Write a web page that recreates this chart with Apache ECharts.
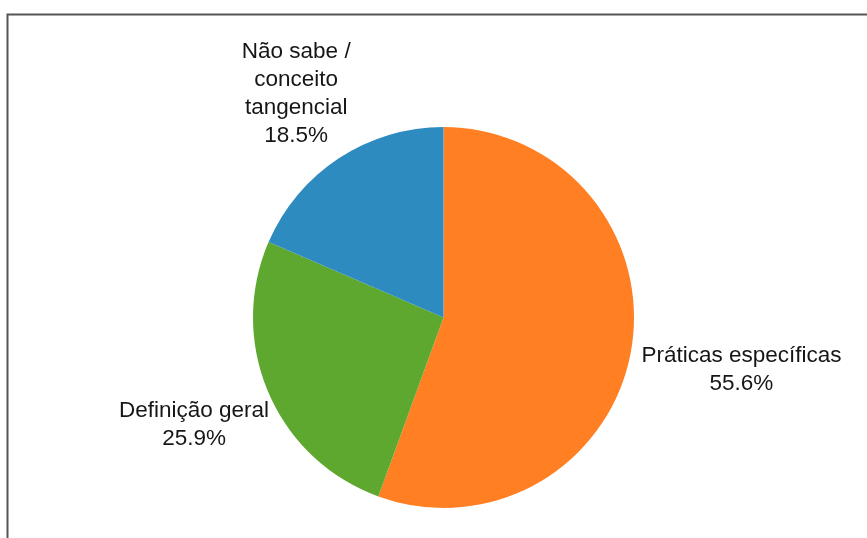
<!DOCTYPE html>
<html>
<head>
<meta charset="utf-8">
<script src="https://cdn.jsdelivr.net/npm/echarts@6/dist/echarts.min.js"></script>
<style>
  html, body { margin: 0; padding: 0; background: #ffffff; }
  #chart { width: 867px; height: 538px; }
</style>
</head>
<body>
<div id="chart"></div>
<script>
// Categories, response counts and slice colours
const categories = ['Práticas específicas', 'Definição geral', 'Não sabe /\nconceito\ntangencial'];
const counts = [15, 7, 5];
const colors = ['#ff7f22', '#5fa82f', '#2e8bc0'];

const CENTER = [443.5, 317.5];
const RADIUS = 190.5;
const LABEL_GAP = 1.055; // label box edge sits just outside the rim, along the slice bisector

const total = counts.reduce((a, b) => a + b, 0);
// Bisector angle of each slice, clockwise from 12 o'clock
const midAngles = [];
let acc = 0;
counts.forEach(v => {
  midAngles.push(2 * Math.PI * (acc + v / 2) / total);
  acc += v;
});

const chart = echarts.init(document.getElementById('chart'), null, { renderer: 'canvas' });

chart.setOption({
  backgroundColor: '#ffffff',
  animation: false,
  graphic: [{
    type: 'rect',
    shape: { x: 7.5, y: 14.5, width: 880, height: 560 },
    style: { fill: 'none', stroke: '#555555', lineWidth: 2 },
    silent: true
  }],
  series: [{
    type: 'pie',
    center: CENTER,
    radius: RADIUS,
    startAngle: 90,
    clockwise: true,
    data: categories.map((name, i) => ({
      name: name,
      value: counts[i],
      itemStyle: { color: colors[i] }
    })),
    label: {
      show: true,
      position: 'outside',
      formatter: p => p.name + '\n' + (p.value / total * 100).toFixed(1) + '%',
      fontFamily: '"Liberation Sans", Arial, sans-serif',
      fontSize: 22.5,
      lineHeight: 28,
      color: '#161616',
      align: 'center',
      overflow: 'none',
      edgeDistance: 0,
      bleedMargin: 0
    },
    labelLine: { show: false },
    emphasis: { disabled: true },
    labelLayout: function (params) {
      const th = midAngles[params.dataIndex];
      const dx = Math.sin(th), dy = -Math.cos(th);
      const hw = params.labelRect.width / 2, hh = params.labelRect.height / 2;
      const t = Math.min(
        Math.abs(dx) > 1e-6 ? hw / Math.abs(dx) : Infinity,
        Math.abs(dy) > 1e-6 ? hh / Math.abs(dy) : Infinity
      );
      const d = LABEL_GAP * RADIUS + t;
      return {
        x: CENTER[0] + d * dx,
        y: CENTER[1] + d * dy,
        align: 'center',
        verticalAlign: 'middle',
        hideOverlap: false,
        moveOverlap: null
      };
    }
  }]
});
</script>
</body>
</html>
